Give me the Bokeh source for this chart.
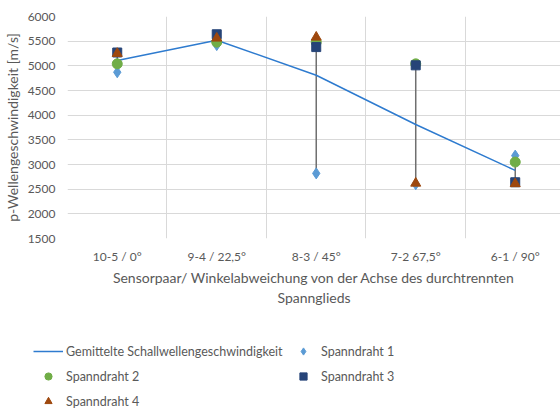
import numpy as np
from bokeh.plotting import figure
from bokeh.layouts import column
from bokeh.models import (ColumnDataSource, Range1d, FixedTicker, Legend, LegendItem)
from bokeh.embed import file_html
from bokeh.resources import INLINE

categories = ["10-5 / 0°", "9-4 / 22,5°", "8-3 / 45°", "7-2 67,5°", "6-1 / 90°"]
mittel = [5110, 5520, 4810, 3810, 2880]
spanndraht_1 = [4870, 5420, 2820, 2600, 3180]
spanndraht_2 = [5040, 5480, 5480, 5040, 3050]
spanndraht_3 = [5270, 5640, 5380, 5010, 2640]
spanndraht_4 = [5250, 5560, 5580, 2620, 2610]
y_ticks = [1500, 2000, 2500, 3000, 3500, 4000, 4500, 5000, 5500, 6000]

FONT = "Lato"
TXT = "#595959"
GRID = "#D9D9D9"
C_AVG = "#2E7BCF"
C1, C2, C3, C4 = "#5B9BD5", "#70AD47", "#264478", "#9E480E"

x = list(range(len(categories)))
series = np.array([spanndraht_1, spanndraht_2, spanndraht_3, spanndraht_4])
lo = series.min(axis=0)
hi = series.max(axis=0)

TOP_H = 315
p = figure(width=560, height=TOP_H, output_backend="svg", toolbar_location=None,
           x_range=Range1d(-0.5, 4.455), y_range=Range1d(1500, 6000),
           min_border_left=67, min_border_right=0, min_border_top=16,
           min_border_bottom=TOP_H - 238)
p.outline_line_color = None
p.background_fill_color = "white"
p.frame_align = False

# grid
p.xgrid.ticker = FixedTicker(ticks=[-0.5, 0.5, 1.5, 2.5, 3.5, 4.5])
p.xgrid.grid_line_color = GRID
p.xgrid.grid_line_width = 1
p.ygrid.ticker = FixedTicker(ticks=y_ticks)
p.ygrid.grid_line_color = GRID
p.ygrid.grid_line_width = 1

# axes
p.xaxis.ticker = FixedTicker(ticks=x)
p.xaxis.major_label_overrides = {i: c for i, c in zip(x, categories)}
p.xaxis.axis_line_color = None
p.xaxis.major_tick_line_color = None
p.xaxis.minor_tick_line_color = None
p.xaxis.major_tick_out = 0
p.xaxis.major_label_standoff = 10
p.xaxis.major_label_text_font = FONT
p.xaxis.major_label_text_font_size = "12px"
p.xaxis.major_label_text_color = TXT
p.xaxis.axis_label = "Sensorpaar/ Winkelabweichung von der Achse des durchtrennten\nSpannglieds"
p.xaxis.axis_label_text_font = FONT
p.xaxis.axis_label_text_font_size = "14px"
p.xaxis.axis_label_text_font_style = "normal"
p.xaxis.axis_label_text_color = TXT
p.xaxis.axis_label_standoff = 2

p.yaxis.ticker = FixedTicker(ticks=y_ticks)
p.yaxis.axis_line_color = None
p.yaxis.major_tick_line_color = None
p.yaxis.minor_tick_line_color = None
p.yaxis.major_tick_out = 0
p.yaxis.major_label_standoff = 12
p.yaxis.major_label_text_font = FONT
p.yaxis.major_label_text_font_size = "12px"
p.yaxis.major_label_text_color = TXT
p.yaxis.axis_label = "p-Wellengeschwindigkeit [m/s]"
p.yaxis.axis_label_text_font = FONT
p.yaxis.axis_label_text_font_size = "14px"
p.yaxis.axis_label_text_font_style = "normal"
p.yaxis.axis_label_text_color = TXT
p.yaxis.axis_label_standoff = 4

# high-low lines
p.segment(x0=x, y0=lo, x1=x, y1=hi, line_color="#6F6F6F", line_width=1.5)

# average line
p.line(x, mittel, line_color=C_AVG, line_width=1.5)

src = ColumnDataSource(dict(x=x, s1=spanndraht_1, s2=spanndraht_2,
                            s3=spanndraht_3, s4=spanndraht_4))
p.scatter("x", "s1", source=src, marker="diamond", size=11, fill_color=C1, line_color=C1)
p.scatter("x", "s2", source=src, marker="circle", size=10, fill_color=C2, line_color=C2)
p.scatter("x", "s3", source=src, marker="square", size=9, fill_color=C3, line_color=C3)
p.scatter("x", "s4", source=src, marker="triangle", size=10, fill_color=C4, line_color=C4)

# legend figure (its marks sit outside its visible range; only the legend shows)
BOT_H = 410 - TOP_H
q = figure(width=560, height=BOT_H, output_backend="svg", toolbar_location=None,
           x_range=Range1d(0, 1), y_range=Range1d(0, 1),
           min_border=0, min_border_left=0, min_border_right=0,
           min_border_top=0, min_border_bottom=0,
           x_axis_location=None, y_axis_location=None)
q.outline_line_color = None
q.grid.visible = False
q.frame_align = False
off = ColumnDataSource(dict(x=[-5, -4], y=[-5, -5]))
l_avg = q.line("x", "y", source=off, line_color=C_AVG, line_width=1.5)
l1 = q.scatter("x", "y", source=off, marker="diamond", size=11, fill_color=C1, line_color=C1)
l2 = q.scatter("x", "y", source=off, marker="circle", size=9, fill_color=C2, line_color=C2)
l3 = q.scatter("x", "y", source=off, marker="square", size=9, fill_color=C3, line_color=C3)
l4 = q.scatter("x", "y", source=off, marker="triangle", size=9, fill_color=C4, line_color=C4)

def make_legend(items, loc):
    lg = Legend(items=items, location=loc, orientation="vertical")
    lg.glyph_width = 30
    lg.glyph_height = 18
    lg.label_height = 18
    lg.spacing = 7
    lg.padding = 0
    lg.margin = 0
    lg.label_standoff = 3
    lg.border_line_color = None
    lg.background_fill_alpha = 0
    lg.label_text_font = FONT
    lg.label_text_font_size = "12.5px"
    lg.label_text_color = TXT
    return lg

# q's frame spans page y 315..410; legend tops at page y 342
leg_a = make_legend([
    LegendItem(label="Gemittelte Schallwellengeschwindigkeit", renderers=[l_avg]),
    LegendItem(label="Spanndraht 2", renderers=[l2]),
    LegendItem(label="Spanndraht 4", renderers=[l4]),
], (33, 0))
leg_b = make_legend([
    LegendItem(label="Spanndraht 1", renderers=[l1]),
    LegendItem(label="Spanndraht 3", renderers=[l3]),
], (288, 25))
q.add_layout(leg_a, "center")
q.add_layout(leg_b, "center")

layout = column(p, q, spacing=0)
open("out.html", "w").write(file_html(layout, INLINE))
